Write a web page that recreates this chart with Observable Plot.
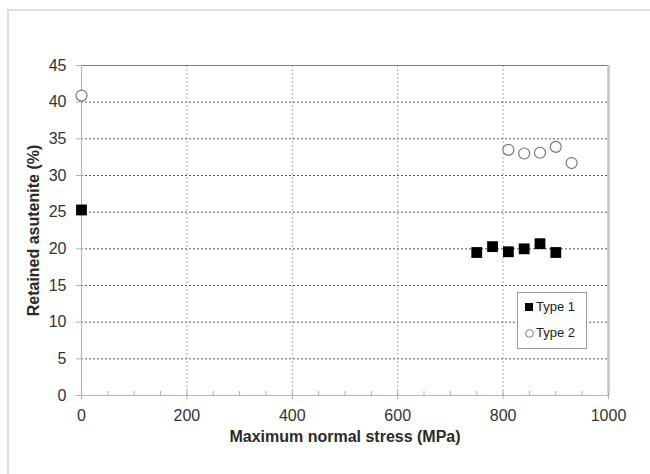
<!DOCTYPE html>
<html>
<head>
<meta charset="utf-8">
<script src="https://cdn.jsdelivr.net/npm/d3@7"></script>
<script src="https://cdn.jsdelivr.net/npm/@observablehq/plot@0.6"></script>
<style>
  html, body { margin: 0; padding: 0; background: #fff; }
  #wrap { position: relative; width: 650px; height: 474px; overflow: hidden; font-family: "Liberation Sans", Arial, sans-serif; }
  #frame { position: absolute; left: 7px; top: 9px; right: -5px; bottom: -5px; border-top: 2px solid #dcdcdc; border-left: 2px solid #dcdcdc; }
  #chart { position: absolute; left: 0; top: 0; }
  #legend { position: absolute; left: 517px; top: 292px; width: 68px; height: 55px; border: 1px solid #9a9a9a; background: #fff; font-size: 13px; color: #222; }
  #legend .row { position: absolute; left: 7px; display: flex; align-items: center; gap: 2px; }
</style>
</head>
<body>
<div id="wrap">
  <div id="frame"></div>
  <div id="chart"></div>
  <div id="legend"></div>
</div>
<script>
// Data
const seriesNames = ["Type 1", "Type 2"];
const stressType1 = [0, 750, 780, 810, 840, 870, 900];
const austeniteType1 = [25.3, 19.5, 20.3, 19.6, 20.0, 20.7, 19.5];
const stressType2 = [0, 810, 840, 870, 900, 930];
const austeniteType2 = [40.9, 33.5, 33.0, 33.1, 33.9, 31.7];
const xTicks = [0, 200, 400, 600, 800, 1000];
const xMinorTicks = d3.range(0, 1001, 50);
const yTicks = [0, 5, 10, 15, 20, 25, 30, 35, 40, 45];

const type1 = stressType1.map((x, i) => ({x, y: austeniteType1[i], series: seriesNames[0]}));
const type2 = stressType2.map((x, i) => ({x, y: austeniteType2[i], series: seriesNames[1]}));

const chart = Plot.plot({
  width: 650,
  height: 474,
  marginLeft: 81,
  marginRight: 42,
  marginTop: 65,
  marginBottom: 79,
  style: {background: "transparent", fontFamily: "Liberation Sans, Arial, sans-serif", overflow: "visible"},
  x: {domain: [0, 1000]},
  y: {domain: [0, 45]},
  marks: [
    Plot.gridY(yTicks.filter(d => d > 0 && d < 45), {stroke: "#555", strokeOpacity: 1, strokeDasharray: "2,2", strokeWidth: 1}),
    Plot.gridX(xTicks.filter(d => d > 0 && d < 1000), {stroke: "#aaa", strokeOpacity: 1, strokeDasharray: "2,2", strokeWidth: 1}),
    Plot.ruleY([45], {stroke: "#808080", strokeWidth: 1.2}),
    Plot.ruleX([1000], {stroke: "#c4c4c4", strokeWidth: 2.5}),
    Plot.ruleX([0], {stroke: "#b8b8b8", strokeWidth: 1.2}),
    Plot.ruleY([0], {stroke: "#b8b8b8", strokeWidth: 1.2}),
    Plot.axisX(xMinorTicks, {tickSize: -4, text: null, stroke: "#b0b0b0", label: null}),
    Plot.axisX(xTicks, {tickSize: 4, text: null, stroke: "#b0b0b0", label: null}),
    Plot.axisX(xTicks, {tickSize: 0, tickPadding: 14, fontSize: 16, fill: "#333", label: null, tickFormat: d => String(d)}),
    Plot.axisY(yTicks, {tickSize: 5, text: null, stroke: "#b0b0b0", label: null}),
    Plot.axisY(yTicks, {tickSize: 0, tickPadding: 15, fontSize: 16, fill: "#333", label: null}),
    Plot.text(["Maximum normal stress (MPa)"], {frameAnchor: "bottom", dy: 46, fontSize: 16, fontWeight: "bold", fill: "#2a2a2a"}),
    Plot.text(["Retained asutenite (%)"], {frameAnchor: "left", textAnchor: "middle", dx: -48, rotate: -90, fontSize: 16, fontWeight: "bold", fill: "#2a2a2a"}),
    Plot.dot(type2, {x: "x", y: "y", r: 5.5, symbol: "circle", fill: "white", stroke: "#777", strokeWidth: 1.2}),
    Plot.dot(type1, {x: "x", y: "y", r: 6.1, symbol: "square", fill: "black", stroke: "none"})
  ]
});
document.getElementById("chart").appendChild(chart);

// Legend
const legend = document.getElementById("legend");
legend.innerHTML =
  `<div class="row" style="top:6px"><svg width="9" height="14"><rect x="0" y="3" width="8" height="8" fill="black"/></svg><span>${seriesNames[0]}</span></div>` +
  `<div class="row" style="top:32px"><svg width="9" height="14"><circle cx="4.5" cy="7.5" r="3.8" fill="white" stroke="#777" stroke-width="1"/></svg><span>${seriesNames[1]}</span></div>`;
</script>
</body>
</html>
